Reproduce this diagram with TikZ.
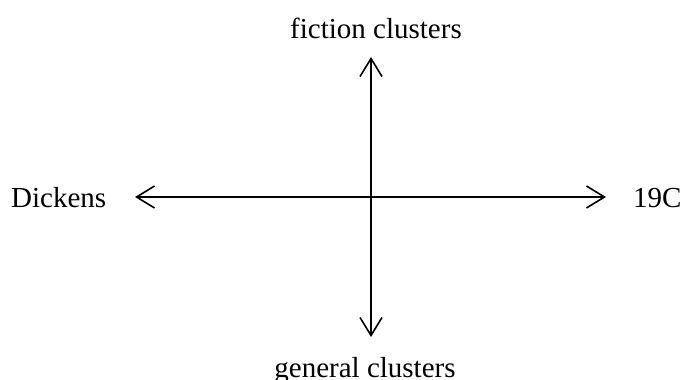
\documentclass[tikz,border=0pt]{standalone}
\usepackage{fontspec}
\setmainfont{Liberation Serif}
\usetikzlibrary{arrows.meta}
\begin{document}
\begin{tikzpicture}[x=1pt,y=-1pt,
  lbl/.style={inner sep=0pt,font=\fontsize{29}{34}\selectfont},
  axis/.style={line width=1.6pt,{Straight Barb[length=18pt,width=22pt,line width=1.6pt]}-{Straight Barb[length=18pt,width=22pt,line width=1.6pt]}}]
\useasboundingbox (0,0) rectangle (680,380);
\node[lbl,anchor=base] (fic) at (376,38) {fiction clusters};
\node[lbl,anchor=base] (gen) at (365,377) {general clusters};
\node[lbl,anchor=base west] (dic) at (11,207) {Dickens};
\node[lbl,anchor=base west] (c19) at (633,207) {19C};
\coordinate (top) at (371,57);
\coordinate (bot) at (371,337);
\coordinate (lft) at (135,197);
\coordinate (rgt) at (606,197);
\draw[axis] (lft) -- (rgt);
\draw[axis] (bot) -- (top);
\end{tikzpicture}
\end{document}
